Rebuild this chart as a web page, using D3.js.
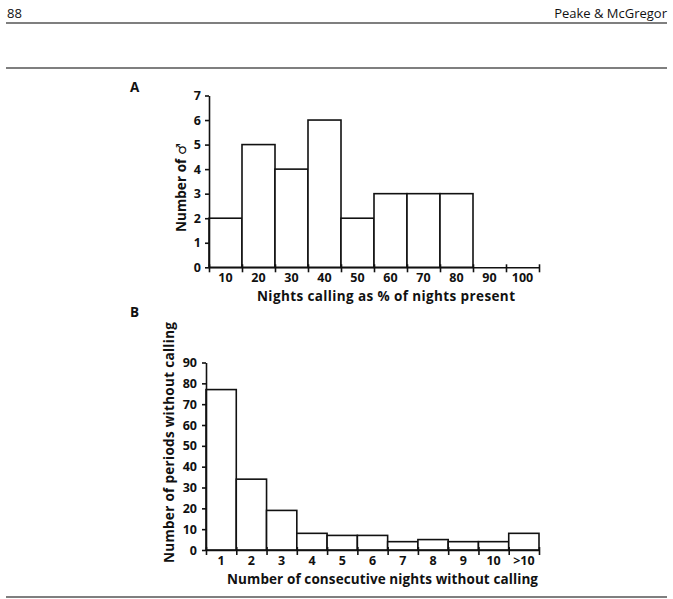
<!DOCTYPE html>
<html>
<head>
<meta charset="utf-8">
<script src="https://cdn.jsdelivr.net/npm/d3@7"></script>
<style>
  body { margin: 0; background: #fff; }
  svg { display: block; }
  text { font-family: "Open Sans", "DejaVu Sans", sans-serif; fill: #111; }
  .tick text { font-size: 12.5px; font-weight: 700; }
  .bold { font-weight: 700; font-size: 13.5px; }
</style>
</head>
<body>
<div id="chart"></div>
<script>
// Panel A: nights calling as % of nights present
const catsA = ["10", "20", "30", "40", "50", "60", "70", "80", "90", "100"];
const valsA = [2, 5, 4, 6, 2, 3, 3, 3, 0, 0];
const ticksA = [0, 1, 2, 3, 4, 5, 6, 7];

// Panel B: consecutive nights without calling
const catsB = ["1", "2", "3", "4", "5", "6", "7", "8", "9", "10", ">10"];
const valsB = [77, 34, 19, 8, 7, 7, 4, 5, 4, 4, 8];
const ticksB = [0, 10, 20, 30, 40, 50, 60, 70, 80, 90];

const width = 673, height = 599;

const svg = d3.select("#chart")
    .append("svg")
    .attr("width", width)
    .attr("height", height);

// page header
svg.append("text").attr("x", 7).attr("y", 18)
    .style("font-size", "13px").text("88");
svg.append("text").attr("x", 667).attr("y", 18)
    .attr("text-anchor", "end")
    .style("font-size", "13px").text("Peake & McGregor");

[23, 68, 597].forEach(y => {
    svg.append("line")
        .attr("x1", 6).attr("x2", 667)
        .attr("y1", y).attr("y2", y)
        .attr("stroke", "#555")
        .attr("stroke-width", 1.3);
});

function drawPanel(cfg) {
    const g = svg.append("g");

    const xBand = d3.scaleBand()
        .domain(cfg.cats)
        .range([cfg.left, cfg.right])
        .padding(0);

    const xEdge = d3.scaleLinear()
        .domain([0, cfg.cats.length])
        .range([cfg.left, cfg.right]);

    const y = d3.scaleLinear()
        .domain([0, cfg.max])
        .range([cfg.bottom, cfg.top]);

    // bars (empty bins draw nothing)
    cfg.vals.forEach((v, i) => {
        if (v <= 0) return;
        g.append("rect")
            .attr("x", xBand(cfg.cats[i]))
            .attr("y", y(v))
            .attr("width", xBand.bandwidth())
            .attr("height", y(0) - y(v))
            .attr("fill", "#fff")
            .attr("stroke", "#111")
            .attr("stroke-width", 1.6);
    });

    // x axis: ticks at bin edges, crossing the axis line
    const xAxis = g.append("g")
        .attr("transform", `translate(0,${cfg.bottom})`)
        .call(d3.axisBottom(xEdge)
            .tickValues(d3.range(cfg.cats.length + 1))
            .tickSize(5)
            .tickSizeOuter(0)
            .tickFormat(""));
    xAxis.selectAll(".tick line").attr("y1", -3);
    xAxis.selectAll("path, line").attr("stroke", "#111").attr("stroke-width", 1.6);

    // x labels centred in bins
    const xLab = g.append("g")
        .attr("transform", `translate(0,${cfg.bottom})`)
        .call(d3.axisBottom(xBand).tickSize(0).tickPadding(cfg.xPad));
    xLab.select(".domain").remove();
    xLab.selectAll("text").attr("fill", "#111");

    // y axis
    const yAxis = g.append("g")
        .attr("transform", `translate(${cfg.left},0)`)
        .call(d3.axisLeft(y)
            .tickValues(cfg.ticks)
            .tickFormat(d3.format("d"))
            .tickSize(4)
            .tickSizeOuter(0)
            .tickPadding(cfg.yPad));
    yAxis.selectAll("path, line").attr("stroke", "#111").attr("stroke-width", 1.6);
    yAxis.selectAll("text").attr("fill", "#111");

    // axis titles
    g.append("text")
        .attr("class", "bold")
        .attr("x", cfg.xTitleX).attr("y", cfg.xTitleY)
        .attr("textLength", cfg.xTitleLen)
        .attr("lengthAdjust", "spacing")
        .text(cfg.xTitle);

    g.append("text")
        .attr("class", "bold")
        .attr("transform", `translate(${cfg.yTitleX},${cfg.yTitleY}) rotate(-90)`)
        .attr("textLength", cfg.yTitleLen)
        .attr("lengthAdjust", "spacing")
        .text(cfg.yTitle);

    // panel letter
    g.append("text")
        .attr("class", "bold")
        .attr("x", 130).attr("y", cfg.letterY)
        .text(cfg.letter);
}

drawPanel({
    cats: catsA, vals: valsA, ticks: ticksA, max: 7,
    left: 209, right: 539, top: 95.5, bottom: 267.3,
    xPad: 5.8, yPad: 4,
    xTitle: "Nights calling as % of nights present",
    xTitleX: 257, xTitleY: 300.5, xTitleLen: 258,
    yTitle: "Number of \u2642",
    yTitleX: 186, yTitleY: 232, yTitleLen: 89,
    letter: "A", letterY: 92
});

drawPanel({
    cats: catsB, vals: valsB, ticks: ticksB, max: 90,
    left: 206, right: 539, top: 362.5, bottom: 550,
    xPad: 6.6, yPad: 5,
    xTitle: "Number of consecutive nights without calling",
    xTitleX: 227, xTitleY: 584, xTitleLen: 311,
    yTitle: "Number of periods without calling",
    yTitleX: 174, yTitleY: 563, yTitleLen: 241,
    letter: "B", letterY: 317
});
</script>
</body>
</html>
